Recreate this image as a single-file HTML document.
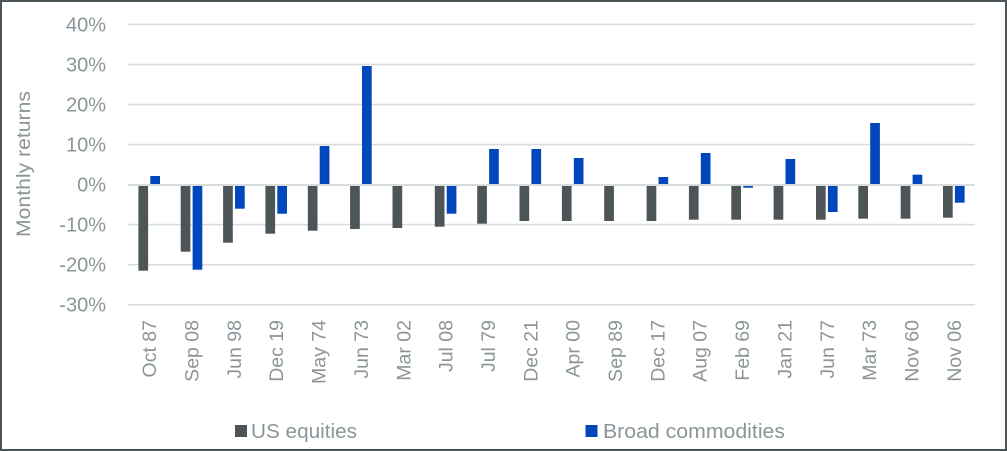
<!DOCTYPE html>
<html>
<head>
<meta charset="utf-8">
<style>
  html,body{margin:0;padding:0;background:#ffffff;}
  svg{display:block;}
  text{font-family:"Liberation Sans",Arial,sans-serif;fill:#8b9599;}
</style>
</head>
<body>
<svg width="1007" height="451" viewBox="0 0 1007 451" xmlns="http://www.w3.org/2000/svg">
  <rect x="0" y="0" width="1007" height="451" fill="#ffffff"/>

  <!-- gridlines -->
  <g fill="#d9dcdc">
    <rect x="128" y="23.6" width="847" height="1.6"/>
    <rect x="128" y="63.7" width="847" height="1.6"/>
    <rect x="128" y="103.7" width="847" height="1.6"/>
    <rect x="128" y="143.8" width="847" height="1.6"/>
    <rect x="128" y="223.8" width="847" height="1.6"/>
    <rect x="128" y="263.9" width="847" height="1.6"/>
    <rect x="128" y="303.9" width="847" height="1.6"/>
  </g>

  <!-- US equities bars -->
  <g fill="#4e5559">
    <rect x="138.4" y="185" width="9.7" height="85.7"/>
    <rect x="180.7" y="185" width="9.7" height="66.7"/>
    <rect x="223.1" y="185" width="9.7" height="57.7"/>
    <rect x="265.4" y="185" width="9.7" height="48.7"/>
    <rect x="307.8" y="185" width="9.7" height="45.7"/>
    <rect x="350.1" y="185" width="9.7" height="44"/>
    <rect x="392.5" y="185" width="9.7" height="43"/>
    <rect x="434.8" y="185" width="9.7" height="41.7"/>
    <rect x="477.2" y="185" width="9.7" height="38.7"/>
    <rect x="519.5" y="185" width="9.7" height="36"/>
    <rect x="561.9" y="185" width="9.7" height="36"/>
    <rect x="604.2" y="185" width="9.7" height="36"/>
    <rect x="646.6" y="185" width="9.7" height="36"/>
    <rect x="688.9" y="185" width="9.7" height="34.7"/>
    <rect x="731.3" y="185" width="9.7" height="34.7"/>
    <rect x="773.6" y="185" width="9.7" height="34.7"/>
    <rect x="816.0" y="185" width="9.7" height="34.7"/>
    <rect x="858.3" y="185" width="9.7" height="33.7"/>
    <rect x="900.7" y="185" width="9.7" height="33.7"/>
    <rect x="943.0" y="185" width="9.7" height="32.7"/>
  </g>

  <!-- Broad commodities bars -->
  <g fill="#0047bb">
    <rect x="150.3" y="176" width="9.7" height="9"/>
    <rect x="192.6" y="185" width="9.7" height="84.7"/>
    <rect x="235.0" y="185" width="9.7" height="23.7"/>
    <rect x="277.3" y="185" width="9.7" height="28.7"/>
    <rect x="319.7" y="146" width="9.7" height="39"/>
    <rect x="362.0" y="66" width="9.7" height="119"/>
    <rect x="446.7" y="185" width="9.7" height="28.7"/>
    <rect x="489.1" y="149" width="9.7" height="36"/>
    <rect x="531.4" y="149" width="9.7" height="36"/>
    <rect x="573.8" y="158" width="9.7" height="27"/>
    <rect x="658.5" y="177" width="9.7" height="8"/>
    <rect x="700.8" y="153" width="9.7" height="32"/>
    <rect x="743.2" y="185" width="9.7" height="2.7"/>
    <rect x="785.5" y="159" width="9.7" height="26"/>
    <rect x="827.9" y="185" width="9.7" height="27"/>
    <rect x="870.2" y="123" width="9.7" height="62"/>
    <rect x="912.6" y="174.7" width="9.7" height="10.3"/>
    <rect x="954.9" y="185" width="9.7" height="17.7"/>
  </g>

  <!-- zero axis line -->
  <rect x="128" y="184" width="847" height="2" fill="#d9dcdc"/>

  <!-- y tick labels -->
  <g font-size="20" text-anchor="end">
    <text x="106" y="31.5">40%</text>
    <text x="106" y="71.5">30%</text>
    <text x="106" y="111.5">20%</text>
    <text x="106" y="151.5">10%</text>
    <text x="106" y="191.6">0%</text>
    <text x="106" y="231.6">-10%</text>
    <text x="106" y="271.6">-20%</text>
    <text x="106" y="311.7">-30%</text>
  </g>

  <!-- y axis title -->
  <text transform="translate(30,164) rotate(-90)" font-size="19" text-anchor="middle" textLength="146" lengthAdjust="spacingAndGlyphs">Monthly returns</text>

  <!-- x labels -->
  <g font-size="19.5" text-anchor="end">
    <text transform="translate(156.2,320) rotate(-90)">Oct 87</text>
    <text transform="translate(198.5,320) rotate(-90)">Sep 08</text>
    <text transform="translate(240.9,320) rotate(-90)">Jun 98</text>
    <text transform="translate(283.2,320) rotate(-90)">Dec 19</text>
    <text transform="translate(325.6,320) rotate(-90)">May 74</text>
    <text transform="translate(367.9,320) rotate(-90)">Jun 73</text>
    <text transform="translate(410.3,320) rotate(-90)">Mar 02</text>
    <text transform="translate(452.6,320) rotate(-90)">Jul 08</text>
    <text transform="translate(495.0,320) rotate(-90)">Jul 79</text>
    <text transform="translate(537.3,320) rotate(-90)">Dec 21</text>
    <text transform="translate(579.7,320) rotate(-90)">Apr 00</text>
    <text transform="translate(622.0,320) rotate(-90)">Sep 89</text>
    <text transform="translate(664.4,320) rotate(-90)">Dec 17</text>
    <text transform="translate(706.7,320) rotate(-90)">Aug 07</text>
    <text transform="translate(749.1,320) rotate(-90)">Feb 69</text>
    <text transform="translate(791.4,320) rotate(-90)">Jan 21</text>
    <text transform="translate(833.8,320) rotate(-90)">Jun 77</text>
    <text transform="translate(876.1,320) rotate(-90)">Mar 73</text>
    <text transform="translate(918.5,320) rotate(-90)">Nov 60</text>
    <text transform="translate(960.8,320) rotate(-90)">Nov 06</text>
  </g>

  <!-- legend -->
  <rect x="235" y="425" width="12" height="12" fill="#4e5559"/>
  <text x="251" y="438" font-size="20" textLength="106" lengthAdjust="spacingAndGlyphs">US equities</text>
  <rect x="585.5" y="425" width="12" height="12" fill="#0047bb"/>
  <text x="603" y="438" font-size="20" textLength="182" lengthAdjust="spacingAndGlyphs">Broad commodities</text>

  <!-- outer border -->
  <rect x="1" y="1" width="1005" height="449" fill="none" stroke="#4b5459" stroke-width="2"/>
</svg>
</body>
</html>
